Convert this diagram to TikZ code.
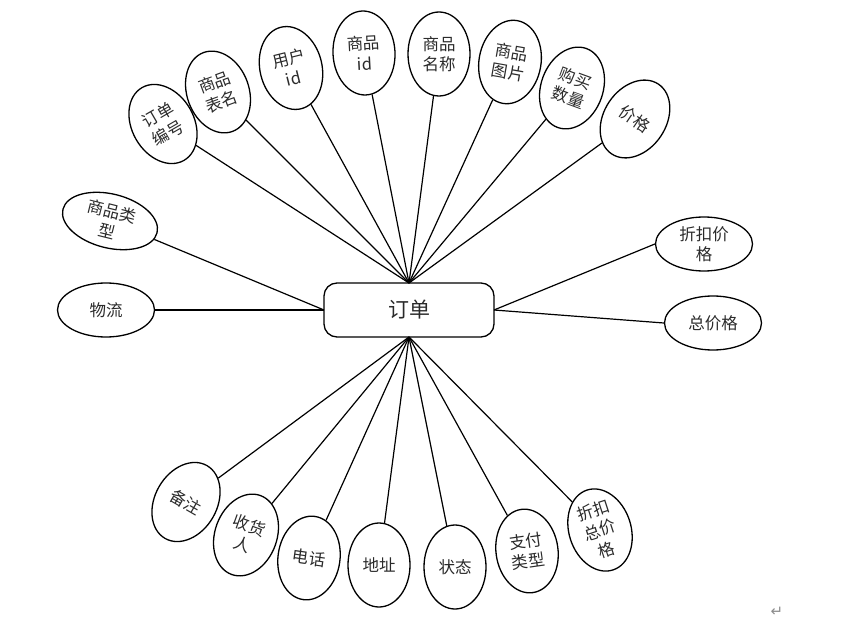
\documentclass[tikz,border=0pt]{standalone}
\usepackage{fontspec}
\setmainfont{Noto Sans CJK SC}
\newfontfamily\symfont{DejaVu Sans}
\usetikzlibrary{shapes.geometric}
\definecolor{txt}{HTML}{2A2A2A}
\tikzset{
  attr/.style={ellipse, draw=black, line width=1.3pt, inner sep=0pt,
    minimum width=62pt, minimum height=84pt, align=center, text=txt,
    font=\fontsize{16.5}{20.5}\selectfont},
  wattr/.style={attr, minimum width=97pt, minimum height=54pt},
  entity/.style={draw=black, line width=1.3pt, rounded corners=13pt,
    minimum width=170pt, minimum height=54pt, inner sep=0pt, text=txt,
    font=\fontsize{21}{24}\selectfont},
  link/.style={line width=1.2pt, draw=black}
}
\begin{document}
\begin{tikzpicture}[x=1pt,y=-1pt]
\useasboundingbox (0,0) rectangle (861,636);
\node[entity] (E) at (409,310) {订单};
\coordinate (T) at (409,283);
\coordinate (B) at (409,337);
\coordinate (L) at (324,310);
\coordinate (R) at (494,310);
% top
\node[attr, rotate=30] (a1) at (163,124) {订单\\编号};
\node[attr, rotate=20] (a2) at (218,92) {商品\\表名};
\node[attr, rotate=14] (a3) at (291,68) {用户\\id};
\node[attr, rotate=3] (a4) at (364,53) {商品\\id};
\node[attr, rotate=0] (a5) at (439,54) {商品\\名称};
\node[attr, rotate=-10] (a6) at (510,62) {商品\\图片};
\node[attr, rotate=-20] (a7) at (572,88) {购买\\数量};
\node[attr, rotate=-34] (a8) at (635,119) {价格};
% left
\node[wattr, rotate=-14] (l1) at (110,221) {商品类\\型};
\node[wattr] (l2) at (106,310) {物流};
% right
\node[wattr] (r1) at (704,244) {折扣价\\格};
\node[wattr] (r2) at (713,323) {总价格};
% bottom
\node[attr, rotate=-30] (b1) at (186,502) {备注};
\node[attr, rotate=-20] (b2) at (246,535) {收货\\人};
\node[attr, rotate=-8] (b3) at (309,558) {电话};
\node[attr, rotate=0] (b4) at (379,565) {地址};
\node[attr, rotate=0] (b5) at (455,567) {状态};
\node[attr, rotate=8] (b6) at (527,551) {支付\\类型};
\node[attr, rotate=18] (b7) at (600,530) {折扣\\总价\\格};
% links
\foreach \n in {a1,a2,a3,a4,a5,a6,a7,a8} \draw[link] (\n) -- (T);
\foreach \n in {b1,b2,b3,b4,b5,b6,b7} \draw[link] (\n) -- (B);
\draw[link] (l1) -- (L);
\draw[link] (l2) -- (L);
\draw[link] (r1.west) -- (R);
\draw[link] (r2.west) -- (R);
\node[text=black!45, font=\symfont\fontsize{15}{15}\selectfont] (ret) at (777,612) {↵};
\end{tikzpicture}
\end{document}
